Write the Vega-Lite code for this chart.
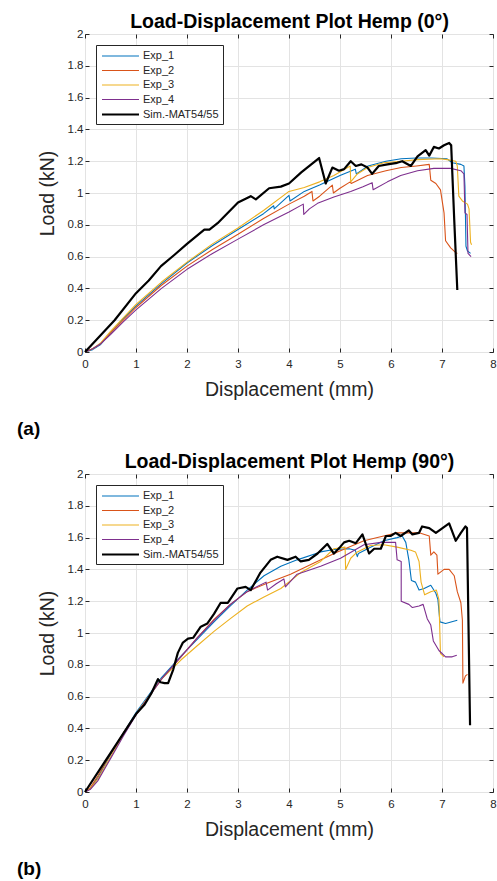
{
  "$schema": "https://vega.github.io/schema/vega-lite/v6.json",
  "padding": {"left": 16, "top": 11, "right": 5, "bottom": 2},
  "background": "white",
  "config": {
    "font": "Liberation Sans",
    "view": {"stroke": "#262626", "strokeWidth": 1},
    "axis": {
      "domain": false,
      "gridColor": "#e3e3e3",
      "gridWidth": 1,
      "tickColor": "#262626",
      "tickSize": -4,
      "labelColor": "#262626",
      "labelFontSize": 11.5,
      "labelFlush": false,
      "labelOverlap": false,
      "titleColor": "#262626",
      "titleFontSize": 19.5,
      "titleFontWeight": "normal"
    },
    "legend": {
      "orient": "top-left",
      "offset": 11,
      "strokeColor": "#262626",
      "fillColor": "white",
      "padding": 4,
      "symbolType": "M-3,0H3",
      "symbolSize": 152,
      "symbolOffset": 13,
      "labelFontSize": 11,
      "labelColor": "#262626",
      "labelOffset": 15,
      "labelLimit": 0,
      "rowPadding": 2.5,
      "title": null
    }
  },
  "datasets": {
    "a": [
      {"s":"Exp_1","x":0,"y":0},{"s":"Exp_1","x":0.15,"y":0.015},{"s":"Exp_1","x":0.3,"y":0.045},{"s":"Exp_1","x":0.5,"y":0.12},{"s":"Exp_1","x":0.75,"y":0.21},{"s":"Exp_1","x":1,"y":0.29},{"s":"Exp_1","x":1.5,"y":0.43},{"s":"Exp_1","x":2,"y":0.56},{"s":"Exp_1","x":2.5,"y":0.67},{"s":"Exp_1","x":3,"y":0.77},{"s":"Exp_1","x":3.5,"y":0.87},{"s":"Exp_1","x":3.7,"y":0.92},{"s":"Exp_1","x":3.71,"y":0.9},{"s":"Exp_1","x":4.0,"y":0.985},{"s":"Exp_1","x":4.02,"y":0.95},{"s":"Exp_1","x":4.3,"y":1.01},{"s":"Exp_1","x":4.6,"y":1.05},{"s":"Exp_1","x":5.0,"y":1.11},{"s":"Exp_1","x":5.3,"y":1.15},{"s":"Exp_1","x":5.32,"y":1.12},{"s":"Exp_1","x":5.55,"y":1.17},{"s":"Exp_1","x":5.9,"y":1.2},{"s":"Exp_1","x":6.2,"y":1.215},{"s":"Exp_1","x":6.5,"y":1.22},{"s":"Exp_1","x":6.8,"y":1.22},{"s":"Exp_1","x":7.1,"y":1.215},{"s":"Exp_1","x":7.2,"y":1.19},{"s":"Exp_1","x":7.37,"y":1.18},{"s":"Exp_1","x":7.43,"y":1.17},{"s":"Exp_1","x":7.45,"y":1.04},{"s":"Exp_1","x":7.47,"y":0.665},{"s":"Exp_1","x":7.5,"y":0.635},{"s":"Exp_1","x":7.56,"y":0.62},
      {"s":"Exp_2","x":0,"y":0},{"s":"Exp_2","x":0.15,"y":0.02},{"s":"Exp_2","x":0.3,"y":0.05},{"s":"Exp_2","x":0.5,"y":0.12},{"s":"Exp_2","x":0.75,"y":0.2},{"s":"Exp_2","x":1,"y":0.28},{"s":"Exp_2","x":1.5,"y":0.42},{"s":"Exp_2","x":2,"y":0.54},{"s":"Exp_2","x":2.5,"y":0.645},{"s":"Exp_2","x":3,"y":0.74},{"s":"Exp_2","x":3.5,"y":0.84},{"s":"Exp_2","x":4,"y":0.93},{"s":"Exp_2","x":4.3,"y":0.98},{"s":"Exp_2","x":4.45,"y":1.01},{"s":"Exp_2","x":4.47,"y":0.95},{"s":"Exp_2","x":4.6,"y":0.98},{"s":"Exp_2","x":4.85,"y":1.05},{"s":"Exp_2","x":4.87,"y":1.0},{"s":"Exp_2","x":5.0,"y":1.03},{"s":"Exp_2","x":5.2,"y":1.07},{"s":"Exp_2","x":5.22,"y":1.06},{"s":"Exp_2","x":5.54,"y":1.11},{"s":"Exp_2","x":5.9,"y":1.14},{"s":"Exp_2","x":6.2,"y":1.16},{"s":"Exp_2","x":6.5,"y":1.17},{"s":"Exp_2","x":6.75,"y":1.18},{"s":"Exp_2","x":6.78,"y":1.08},{"s":"Exp_2","x":6.88,"y":1.06},{"s":"Exp_2","x":6.97,"y":1.02},{"s":"Exp_2","x":7.04,"y":0.875},{"s":"Exp_2","x":7.07,"y":0.7},{"s":"Exp_2","x":7.17,"y":0.655},{"s":"Exp_2","x":7.27,"y":0.625},{"s":"Exp_2","x":7.3,"y":0.62},
      {"s":"Exp_3","x":0,"y":0},{"s":"Exp_3","x":0.15,"y":0.02},{"s":"Exp_3","x":0.3,"y":0.055},{"s":"Exp_3","x":0.5,"y":0.13},{"s":"Exp_3","x":0.75,"y":0.215},{"s":"Exp_3","x":1,"y":0.3},{"s":"Exp_3","x":1.5,"y":0.44},{"s":"Exp_3","x":2,"y":0.565},{"s":"Exp_3","x":2.5,"y":0.68},{"s":"Exp_3","x":3,"y":0.78},{"s":"Exp_3","x":3.5,"y":0.89},{"s":"Exp_3","x":4,"y":1.01},{"s":"Exp_3","x":4.3,"y":1.035},{"s":"Exp_3","x":4.6,"y":1.07},{"s":"Exp_3","x":4.88,"y":1.11},{"s":"Exp_3","x":5.2,"y":1.17},{"s":"Exp_3","x":5.21,"y":1.07},{"s":"Exp_3","x":5.34,"y":1.12},{"s":"Exp_3","x":5.54,"y":1.16},{"s":"Exp_3","x":5.86,"y":1.19},{"s":"Exp_3","x":6.2,"y":1.2},{"s":"Exp_3","x":6.52,"y":1.21},{"s":"Exp_3","x":6.97,"y":1.215},{"s":"Exp_3","x":7.1,"y":1.21},{"s":"Exp_3","x":7.27,"y":1.2},{"s":"Exp_3","x":7.3,"y":1.17},{"s":"Exp_3","x":7.33,"y":0.98},{"s":"Exp_3","x":7.4,"y":0.95},{"s":"Exp_3","x":7.5,"y":0.93},{"s":"Exp_3","x":7.53,"y":0.9},{"s":"Exp_3","x":7.56,"y":0.69},{"s":"Exp_3","x":7.58,"y":0.675},
      {"s":"Exp_4","x":0,"y":0},{"s":"Exp_4","x":0.15,"y":0.02},{"s":"Exp_4","x":0.3,"y":0.05},{"s":"Exp_4","x":0.5,"y":0.11},{"s":"Exp_4","x":0.75,"y":0.19},{"s":"Exp_4","x":1,"y":0.265},{"s":"Exp_4","x":1.5,"y":0.4},{"s":"Exp_4","x":2,"y":0.52},{"s":"Exp_4","x":2.5,"y":0.62},{"s":"Exp_4","x":3,"y":0.71},{"s":"Exp_4","x":3.5,"y":0.8},{"s":"Exp_4","x":4,"y":0.88},{"s":"Exp_4","x":4.28,"y":0.93},{"s":"Exp_4","x":4.29,"y":0.865},{"s":"Exp_4","x":4.4,"y":0.9},{"s":"Exp_4","x":4.56,"y":0.935},{"s":"Exp_4","x":4.88,"y":0.975},{"s":"Exp_4","x":5.21,"y":1.01},{"s":"Exp_4","x":5.45,"y":1.04},{"s":"Exp_4","x":5.63,"y":1.065},{"s":"Exp_4","x":5.65,"y":1.02},{"s":"Exp_4","x":5.93,"y":1.07},{"s":"Exp_4","x":6.19,"y":1.11},{"s":"Exp_4","x":6.52,"y":1.14},{"s":"Exp_4","x":6.84,"y":1.155},{"s":"Exp_4","x":7.17,"y":1.155},{"s":"Exp_4","x":7.37,"y":1.14},{"s":"Exp_4","x":7.43,"y":1.12},{"s":"Exp_4","x":7.45,"y":0.875},{"s":"Exp_4","x":7.49,"y":0.865},{"s":"Exp_4","x":7.51,"y":0.62},{"s":"Exp_4","x":7.57,"y":0.6},
      {"s":"Sim.-MAT54/55","x":0,"y":0},{"s":"Sim.-MAT54/55","x":0.58,"y":0.2},{"s":"Sim.-MAT54/55","x":1.0,"y":0.37},{"s":"Sim.-MAT54/55","x":1.25,"y":0.45},{"s":"Sim.-MAT54/55","x":1.49,"y":0.54},{"s":"Sim.-MAT54/55","x":1.75,"y":0.61},{"s":"Sim.-MAT54/55","x":2.0,"y":0.68},{"s":"Sim.-MAT54/55","x":2.34,"y":0.77},{"s":"Sim.-MAT54/55","x":2.44,"y":0.77},{"s":"Sim.-MAT54/55","x":2.6,"y":0.81},{"s":"Sim.-MAT54/55","x":3.0,"y":0.94},{"s":"Sim.-MAT54/55","x":3.25,"y":0.98},{"s":"Sim.-MAT54/55","x":3.35,"y":0.96},{"s":"Sim.-MAT54/55","x":3.61,"y":1.03},{"s":"Sim.-MAT54/55","x":3.84,"y":1.04},{"s":"Sim.-MAT54/55","x":4.0,"y":1.06},{"s":"Sim.-MAT54/55","x":4.24,"y":1.13},{"s":"Sim.-MAT54/55","x":4.59,"y":1.22},{"s":"Sim.-MAT54/55","x":4.72,"y":1.06},{"s":"Sim.-MAT54/55","x":4.85,"y":1.16},{"s":"Sim.-MAT54/55","x":4.98,"y":1.14},{"s":"Sim.-MAT54/55","x":5.08,"y":1.15},{"s":"Sim.-MAT54/55","x":5.21,"y":1.2},{"s":"Sim.-MAT54/55","x":5.31,"y":1.17},{"s":"Sim.-MAT54/55","x":5.42,"y":1.18},{"s":"Sim.-MAT54/55","x":5.54,"y":1.16},{"s":"Sim.-MAT54/55","x":5.63,"y":1.12},{"s":"Sim.-MAT54/55","x":5.76,"y":1.17},{"s":"Sim.-MAT54/55","x":5.93,"y":1.18},{"s":"Sim.-MAT54/55","x":6.12,"y":1.19},{"s":"Sim.-MAT54/55","x":6.22,"y":1.2},{"s":"Sim.-MAT54/55","x":6.39,"y":1.17},{"s":"Sim.-MAT54/55","x":6.52,"y":1.23},{"s":"Sim.-MAT54/55","x":6.68,"y":1.27},{"s":"Sim.-MAT54/55","x":6.75,"y":1.235},{"s":"Sim.-MAT54/55","x":6.84,"y":1.29},{"s":"Sim.-MAT54/55","x":6.94,"y":1.28},{"s":"Sim.-MAT54/55","x":7.04,"y":1.3},{"s":"Sim.-MAT54/55","x":7.14,"y":1.315},{"s":"Sim.-MAT54/55","x":7.18,"y":1.3},{"s":"Sim.-MAT54/55","x":7.24,"y":0.83},{"s":"Sim.-MAT54/55","x":7.3,"y":0.39}
    ],
    "b": [
      {"s":"Exp_1","x":0,"y":0},{"s":"Exp_1","x":0.1,"y":0.02},{"s":"Exp_1","x":0.25,"y":0.09},{"s":"Exp_1","x":0.5,"y":0.235},{"s":"Exp_1","x":0.75,"y":0.37},{"s":"Exp_1","x":1,"y":0.5},{"s":"Exp_1","x":1.5,"y":0.72},{"s":"Exp_1","x":1.88,"y":0.855},{"s":"Exp_1","x":2.2,"y":0.96},{"s":"Exp_1","x":2.53,"y":1.07},{"s":"Exp_1","x":2.85,"y":1.17},{"s":"Exp_1","x":3.18,"y":1.27},{"s":"Exp_1","x":3.51,"y":1.36},{"s":"Exp_1","x":3.84,"y":1.42},{"s":"Exp_1","x":4.16,"y":1.46},{"s":"Exp_1","x":4.62,"y":1.51},{"s":"Exp_1","x":4.88,"y":1.525},{"s":"Exp_1","x":5.18,"y":1.53},{"s":"Exp_1","x":5.3,"y":1.52},{"s":"Exp_1","x":5.34,"y":1.48},{"s":"Exp_1","x":5.36,"y":1.5},{"s":"Exp_1","x":5.6,"y":1.54},{"s":"Exp_1","x":5.86,"y":1.58},{"s":"Exp_1","x":6.12,"y":1.6},{"s":"Exp_1","x":6.22,"y":1.61},{"s":"Exp_1","x":6.29,"y":1.57},{"s":"Exp_1","x":6.35,"y":1.46},{"s":"Exp_1","x":6.4,"y":1.33},{"s":"Exp_1","x":6.48,"y":1.32},{"s":"Exp_1","x":6.55,"y":1.27},{"s":"Exp_1","x":6.65,"y":1.28},{"s":"Exp_1","x":6.78,"y":1.3},{"s":"Exp_1","x":6.88,"y":1.25},{"s":"Exp_1","x":6.92,"y":1.21},{"s":"Exp_1","x":6.96,"y":1.07},{"s":"Exp_1","x":7.07,"y":1.06},{"s":"Exp_1","x":7.3,"y":1.08},
      {"s":"Exp_2","x":0,"y":0},{"s":"Exp_2","x":0.1,"y":0.025},{"s":"Exp_2","x":0.25,"y":0.1},{"s":"Exp_2","x":0.5,"y":0.24},{"s":"Exp_2","x":0.75,"y":0.37},{"s":"Exp_2","x":1,"y":0.49},{"s":"Exp_2","x":1.5,"y":0.71},{"s":"Exp_2","x":1.88,"y":0.85},{"s":"Exp_2","x":2.2,"y":0.97},{"s":"Exp_2","x":2.53,"y":1.085},{"s":"Exp_2","x":2.85,"y":1.18},{"s":"Exp_2","x":3.18,"y":1.26},{"s":"Exp_2","x":3.58,"y":1.315},{"s":"Exp_2","x":4.03,"y":1.37},{"s":"Exp_2","x":4.49,"y":1.44},{"s":"Exp_2","x":4.95,"y":1.51},{"s":"Exp_2","x":5.47,"y":1.58},{"s":"Exp_2","x":6.12,"y":1.63},{"s":"Exp_2","x":6.55,"y":1.63},{"s":"Exp_2","x":6.75,"y":1.61},{"s":"Exp_2","x":6.78,"y":1.49},{"s":"Exp_2","x":6.84,"y":1.51},{"s":"Exp_2","x":6.9,"y":1.49},{"s":"Exp_2","x":6.92,"y":1.37},{"s":"Exp_2","x":7.04,"y":1.4},{"s":"Exp_2","x":7.14,"y":1.4},{"s":"Exp_2","x":7.24,"y":1.36},{"s":"Exp_2","x":7.3,"y":1.26},{"s":"Exp_2","x":7.37,"y":1.19},{"s":"Exp_2","x":7.4,"y":1.08},{"s":"Exp_2","x":7.41,"y":0.685},{"s":"Exp_2","x":7.46,"y":0.73},{"s":"Exp_2","x":7.5,"y":0.74},
      {"s":"Exp_3","x":0,"y":0},{"s":"Exp_3","x":0.1,"y":0.02},{"s":"Exp_3","x":0.25,"y":0.08},{"s":"Exp_3","x":0.5,"y":0.22},{"s":"Exp_3","x":0.75,"y":0.36},{"s":"Exp_3","x":1,"y":0.49},{"s":"Exp_3","x":1.5,"y":0.71},{"s":"Exp_3","x":1.88,"y":0.83},{"s":"Exp_3","x":2.2,"y":0.92},{"s":"Exp_3","x":2.53,"y":1.01},{"s":"Exp_3","x":2.85,"y":1.09},{"s":"Exp_3","x":3.18,"y":1.17},{"s":"Exp_3","x":3.5,"y":1.225},{"s":"Exp_3","x":3.84,"y":1.28},{"s":"Exp_3","x":4.23,"y":1.38},{"s":"Exp_3","x":4.62,"y":1.45},{"s":"Exp_3","x":4.88,"y":1.53},{"s":"Exp_3","x":5.1,"y":1.54},{"s":"Exp_3","x":5.11,"y":1.4},{"s":"Exp_3","x":5.21,"y":1.47},{"s":"Exp_3","x":5.34,"y":1.51},{"s":"Exp_3","x":5.6,"y":1.55},{"s":"Exp_3","x":5.86,"y":1.555},{"s":"Exp_3","x":6.12,"y":1.54},{"s":"Exp_3","x":6.39,"y":1.52},{"s":"Exp_3","x":6.48,"y":1.51},{"s":"Exp_3","x":6.55,"y":1.45},{"s":"Exp_3","x":6.59,"y":1.32},{"s":"Exp_3","x":6.66,"y":1.24},{"s":"Exp_3","x":6.78,"y":1.26},{"s":"Exp_3","x":6.89,"y":1.27},{"s":"Exp_3","x":6.94,"y":1.21},{"s":"Exp_3","x":6.97,"y":0.87},{"s":"Exp_3","x":7.04,"y":0.85},
      {"s":"Exp_4","x":0,"y":0},{"s":"Exp_4","x":0.1,"y":0.015},{"s":"Exp_4","x":0.25,"y":0.07},{"s":"Exp_4","x":0.5,"y":0.21},{"s":"Exp_4","x":0.75,"y":0.35},{"s":"Exp_4","x":1,"y":0.485},{"s":"Exp_4","x":1.5,"y":0.71},{"s":"Exp_4","x":1.88,"y":0.85},{"s":"Exp_4","x":2.2,"y":0.97},{"s":"Exp_4","x":2.53,"y":1.08},{"s":"Exp_4","x":2.85,"y":1.18},{"s":"Exp_4","x":3.18,"y":1.26},{"s":"Exp_4","x":3.55,"y":1.32},{"s":"Exp_4","x":3.58,"y":1.27},{"s":"Exp_4","x":3.75,"y":1.31},{"s":"Exp_4","x":3.9,"y":1.34},{"s":"Exp_4","x":3.93,"y":1.29},{"s":"Exp_4","x":4.16,"y":1.37},{"s":"Exp_4","x":4.62,"y":1.42},{"s":"Exp_4","x":5.01,"y":1.47},{"s":"Exp_4","x":5.47,"y":1.555},{"s":"Exp_4","x":5.8,"y":1.57},{"s":"Exp_4","x":6.09,"y":1.57},{"s":"Exp_4","x":6.12,"y":1.46},{"s":"Exp_4","x":6.2,"y":1.45},{"s":"Exp_4","x":6.2,"y":1.2},{"s":"Exp_4","x":6.35,"y":1.18},{"s":"Exp_4","x":6.42,"y":1.16},{"s":"Exp_4","x":6.55,"y":1.17},{"s":"Exp_4","x":6.63,"y":1.18},{"s":"Exp_4","x":6.71,"y":1.09},{"s":"Exp_4","x":6.78,"y":1.05},{"s":"Exp_4","x":6.83,"y":0.95},{"s":"Exp_4","x":6.94,"y":0.89},{"s":"Exp_4","x":7.07,"y":0.85},{"s":"Exp_4","x":7.2,"y":0.85},{"s":"Exp_4","x":7.29,"y":0.86},
      {"s":"Sim.-MAT54/55","x":0,"y":0},{"s":"Sim.-MAT54/55","x":0.5,"y":0.245},{"s":"Sim.-MAT54/55","x":1.0,"y":0.49},{"s":"Sim.-MAT54/55","x":1.17,"y":0.55},{"s":"Sim.-MAT54/55","x":1.3,"y":0.62},{"s":"Sim.-MAT54/55","x":1.43,"y":0.71},{"s":"Sim.-MAT54/55","x":1.48,"y":0.69},{"s":"Sim.-MAT54/55","x":1.56,"y":0.685},{"s":"Sim.-MAT54/55","x":1.63,"y":0.685},{"s":"Sim.-MAT54/55","x":1.73,"y":0.77},{"s":"Sim.-MAT54/55","x":1.82,"y":0.875},{"s":"Sim.-MAT54/55","x":1.92,"y":0.94},{"s":"Sim.-MAT54/55","x":2.02,"y":0.965},{"s":"Sim.-MAT54/55","x":2.12,"y":0.97},{"s":"Sim.-MAT54/55","x":2.27,"y":1.04},{"s":"Sim.-MAT54/55","x":2.4,"y":1.06},{"s":"Sim.-MAT54/55","x":2.53,"y":1.12},{"s":"Sim.-MAT54/55","x":2.66,"y":1.19},{"s":"Sim.-MAT54/55","x":2.8,"y":1.19},{"s":"Sim.-MAT54/55","x":2.99,"y":1.28},{"s":"Sim.-MAT54/55","x":3.15,"y":1.29},{"s":"Sim.-MAT54/55","x":3.25,"y":1.27},{"s":"Sim.-MAT54/55","x":3.44,"y":1.38},{"s":"Sim.-MAT54/55","x":3.64,"y":1.46},{"s":"Sim.-MAT54/55","x":3.77,"y":1.48},{"s":"Sim.-MAT54/55","x":3.97,"y":1.46},{"s":"Sim.-MAT54/55","x":4.13,"y":1.48},{"s":"Sim.-MAT54/55","x":4.23,"y":1.45},{"s":"Sim.-MAT54/55","x":4.39,"y":1.46},{"s":"Sim.-MAT54/55","x":4.56,"y":1.5},{"s":"Sim.-MAT54/55","x":4.75,"y":1.56},{"s":"Sim.-MAT54/55","x":4.88,"y":1.5},{"s":"Sim.-MAT54/55","x":5.0,"y":1.54},{"s":"Sim.-MAT54/55","x":5.08,"y":1.57},{"s":"Sim.-MAT54/55","x":5.18,"y":1.58},{"s":"Sim.-MAT54/55","x":5.31,"y":1.565},{"s":"Sim.-MAT54/55","x":5.44,"y":1.62},{"s":"Sim.-MAT54/55","x":5.57,"y":1.5},{"s":"Sim.-MAT54/55","x":5.67,"y":1.53},{"s":"Sim.-MAT54/55","x":5.8,"y":1.53},{"s":"Sim.-MAT54/55","x":5.9,"y":1.61},{"s":"Sim.-MAT54/55","x":5.99,"y":1.61},{"s":"Sim.-MAT54/55","x":6.09,"y":1.63},{"s":"Sim.-MAT54/55","x":6.19,"y":1.61},{"s":"Sim.-MAT54/55","x":6.35,"y":1.645},{"s":"Sim.-MAT54/55","x":6.42,"y":1.62},{"s":"Sim.-MAT54/55","x":6.55,"y":1.63},{"s":"Sim.-MAT54/55","x":6.61,"y":1.67},{"s":"Sim.-MAT54/55","x":6.75,"y":1.66},{"s":"Sim.-MAT54/55","x":6.88,"y":1.63},{"s":"Sim.-MAT54/55","x":7.01,"y":1.66},{"s":"Sim.-MAT54/55","x":7.14,"y":1.69},{"s":"Sim.-MAT54/55","x":7.27,"y":1.58},{"s":"Sim.-MAT54/55","x":7.37,"y":1.63},{"s":"Sim.-MAT54/55","x":7.46,"y":1.67},{"s":"Sim.-MAT54/55","x":7.49,"y":1.66},{"s":"Sim.-MAT54/55","x":7.55,"y":0.42}
    ]
  },
  "vconcat": [
    {
      "width": 408,
      "height": 318,
      "data": {"name": "a"},
      "title": {"text": "(a)", "orient": "bottom", "anchor": "start", "frame": "group", "fontSize": 19, "fontWeight": "bold", "color": "#000000", "dx": -68, "offset": 21},
      "layer": [
        {
          "mark": {"type": "line", "strokeJoin": "round"},
          "encoding": {
            "x": {"field": "x", "type": "quantitative", "scale": {"domain": [0, 8], "nice": false}, "axis": {"orient": "bottom", "title": "Displacement (mm)", "values": [0,1,2,3,4,5,6,7,8], "format": "~g", "labelPadding": 10, "titlePadding": 11}},
            "y": {"field": "y", "type": "quantitative", "scale": {"domain": [0, 2], "nice": false}, "axis": {"orient": "left", "title": "Load (kN)", "values": [0,0.2,0.4,0.6,0.8,1,1.2,1.4,1.6,1.8,2], "format": "~g", "labelPadding": 6, "titlePadding": 10}},
            "color": {"field": "s", "type": "ordinal", "scale": {"type": "ordinal", "domain": ["Exp_1","Exp_2","Exp_3","Exp_4","Sim.-MAT54/55"], "range": ["#0072BD","#D95319","#EDB120","#7E2F8E","#000000"]}},
            "strokeWidth": {"field": "s", "type": "ordinal", "scale": {"type": "ordinal", "domain": ["Exp_1","Exp_2","Exp_3","Exp_4","Sim.-MAT54/55"], "range": [1.1,1.1,1.1,1.1,2.2]}},
            "order": {"value": null}
          }
        },
        {
          "mark": {"type": "line", "opacity": 0},
          "encoding": {
            "x": {"field": "x", "type": "quantitative", "scale": {"domain": [0, 8], "nice": false}, "axis": {"orient": "top", "title": "Load-Displacement Plot Hemp (0°)", "titleFontWeight": "bold", "titleColor": "#000000", "titleFontSize": 19.5, "titlePadding": 2, "labels": false, "grid": false, "values": [0,1,2,3,4,5,6,7,8]}},
            "y": {"field": "y", "type": "quantitative", "scale": {"domain": [0, 2], "nice": false}, "axis": {"orient": "right", "title": null, "labels": false, "grid": false, "values": [0,0.2,0.4,0.6,0.8,1,1.2,1.4,1.6,1.8,2]}}
          }
        }
      ],
      "resolve": {"axis": {"x": "independent", "y": "independent"}}
    },
    {
      "width": 408,
      "height": 318,
      "data": {"name": "b"},
      "title": {"text": "(b)", "orient": "bottom", "anchor": "start", "frame": "group", "fontSize": 19, "fontWeight": "bold", "color": "#000000", "dx": -68, "offset": 21},
      "layer": [
        {
          "mark": {"type": "line", "strokeJoin": "round"},
          "encoding": {
            "x": {"field": "x", "type": "quantitative", "scale": {"domain": [0, 8], "nice": false}, "axis": {"orient": "bottom", "title": "Displacement (mm)", "values": [0,1,2,3,4,5,6,7,8], "format": "~g", "labelPadding": 10, "titlePadding": 11}},
            "y": {"field": "y", "type": "quantitative", "scale": {"domain": [0, 2], "nice": false}, "axis": {"orient": "left", "title": "Load (kN)", "values": [0,0.2,0.4,0.6,0.8,1,1.2,1.4,1.6,1.8,2], "format": "~g", "labelPadding": 6, "titlePadding": 10}},
            "color": {"field": "s", "type": "ordinal", "scale": {"type": "ordinal", "domain": ["Exp_1","Exp_2","Exp_3","Exp_4","Sim.-MAT54/55"], "range": ["#0072BD","#D95319","#EDB120","#7E2F8E","#000000"]}},
            "strokeWidth": {"field": "s", "type": "ordinal", "scale": {"type": "ordinal", "domain": ["Exp_1","Exp_2","Exp_3","Exp_4","Sim.-MAT54/55"], "range": [1.1,1.1,1.1,1.1,2.2]}},
            "order": {"value": null}
          }
        },
        {
          "mark": {"type": "line", "opacity": 0},
          "encoding": {
            "x": {"field": "x", "type": "quantitative", "scale": {"domain": [0, 8], "nice": false}, "axis": {"orient": "top", "title": "Load-Displacement Plot Hemp (90°)", "titleFontWeight": "bold", "titleColor": "#000000", "titleFontSize": 19.5, "titlePadding": 2, "labels": false, "grid": false, "values": [0,1,2,3,4,5,6,7,8]}},
            "y": {"field": "y", "type": "quantitative", "scale": {"domain": [0, 2], "nice": false}, "axis": {"orient": "right", "title": null, "labels": false, "grid": false, "values": [0,0.2,0.4,0.6,0.8,1,1.2,1.4,1.6,1.8,2]}}
          }
        }
      ],
      "resolve": {"axis": {"x": "independent", "y": "independent"}}
    }
  ],
  "spacing": 122,
  "bounds": "flush",
  "resolve": {"scale": {"color": "independent", "strokeWidth": "independent"}, "legend": {"color": "independent", "strokeWidth": "independent"}}
}
